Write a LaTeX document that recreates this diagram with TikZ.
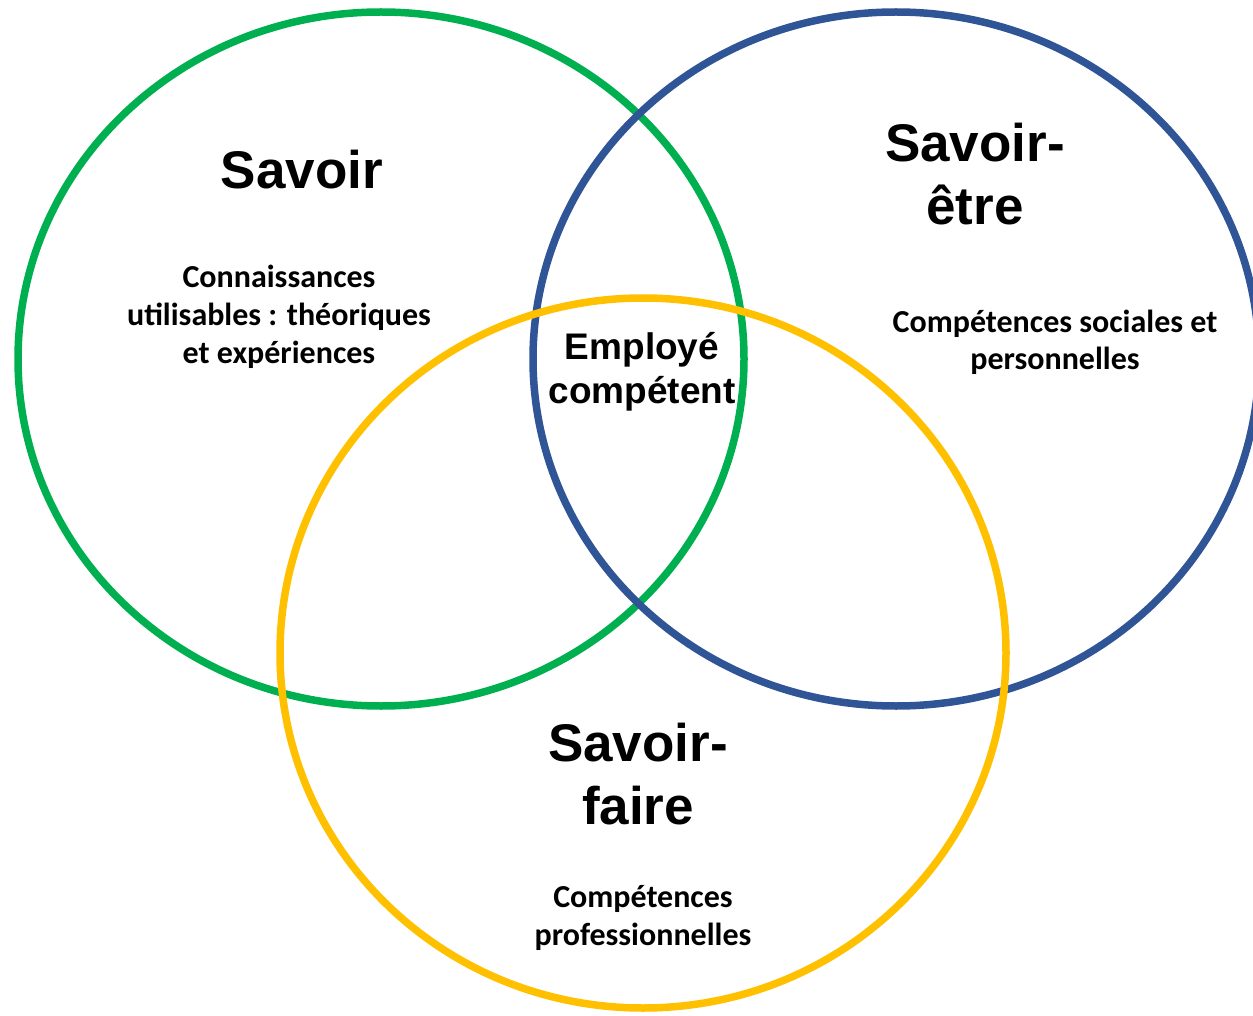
\documentclass[tikz,border=0pt]{standalone}
\usepackage{fontspec}
\setmainfont{Carlito}
\newfontfamily\arialfont{Liberation Sans}
\definecolor{vgreen}{HTML}{00B050}
\definecolor{vblue}{HTML}{2F5597}
\definecolor{vyellow}{HTML}{FFC000}
\begin{document}
\begin{tikzpicture}[x=1pt,y=-1pt,
  ring/.style={line width=7.5pt},
  title/.style={font=\arialfont\bfseries\fontsize{53}{63}\selectfont, align=center, inner sep=0pt, anchor=base},
  mid/.style={font=\arialfont\bfseries\fontsize{37}{44}\selectfont, align=center, inner sep=0pt, anchor=base},
  sub/.style={font=\bfseries\fontsize{32}{38}\selectfont, align=center, inner sep=0pt, anchor=base}]
\useasboundingbox (0,0) rectangle (1253,1016);
\begin{scope}
\clip (0,0) rectangle (1253,1016);
\draw[ring, vgreen] (381,359) ellipse [x radius=363, y radius=347];
\draw[ring, vblue] (896,359) ellipse [x radius=363, y radius=347];
\draw[ring, vyellow] (643,653) ellipse [x radius=363, y radius=355];
\end{scope}
\node[title] (savoir) at (302,189) {Savoir};
\node[title] (etre) at (975,225) {Savoir-\\être};
\node[title] (faire) at (638,824) {Savoir-\\faire};
\node[mid] (emp) at (642,403) {Employé\\compétent};
\node[sub] (conn) at (279,363) {Connaissances\\utilisables : théoriques\\et expériences};
\node[sub] (soc) at (1055,370) {Compétences sociales et\\personnelles};
\node[sub] (pro) at (643,945) {Compétences\\professionnelles};
\end{tikzpicture}
\end{document}
